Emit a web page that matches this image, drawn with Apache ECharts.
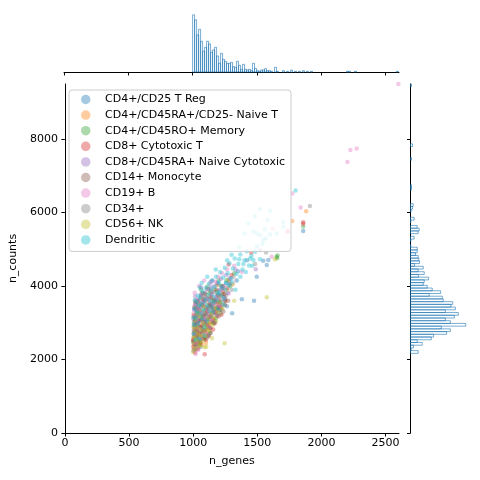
<!DOCTYPE html>
<html><head><meta charset="utf-8">
<script src="https://cdn.jsdelivr.net/npm/echarts@6/dist/echarts.min.js"></script>
<style>html,body{margin:0;padding:0;background:#fff}#c{width:480px;height:480px}</style>
</head><body><div id="c"></div>
<script>
// ---------- DATA ----------
const categories = ['CD4+/CD25 T Reg','CD4+/CD45RA+/CD25- Naive T','CD4+/CD45RO+ Memory','CD8+ Cytotoxic T','CD8+/CD45RA+ Naive Cytotoxic','CD14+ Monocyte','CD19+ B','CD34+','CD56+ NK','Dendritic'];
const xTicks = [0,500,1000,1500,2000,2500];
const yTicks = [0,2000,4000,6000,8000];

// [n_genes, n_counts]
const tRegPts = [[1005,2950],[1012,3120],[1020,2780],[1028,3300],[1035,2650],[1042,3050],[1050,2890],[1058,3420],[1066,3180],[1073,2720],[1081,3010],[1090,3560],[1097,3240],[1105,2950],[1112,3380],[1120,3650],[1128,3100],[1136,3470],[1145,3800],[1153,3260],[1162,3590],[1170,3050],[1180,3720],[1190,3410],[1203,3880],[1215,3560],[1228,3990],[1240,3700],[1255,4080],[1270,3820],[1285,4210],[1304,3257],[1380,3638],[1475,3600],[1496,4253],[1547,4689],[1574,4571],[1586,4707],[1858,5497],[1002,2480],[1018,2560],[1047,3620],[1085,2600],[1133,2850],[1350,4400],[1420,4700],
 [1009,3380],[1031,2420],[1062,3720],[1011,2700],[1094,2780],[1139,3950],[1176,3250],[1024,3500],[1208,3350],[1117,2650],[1057,2350],[1196,4050],[1263,3450],[1149,3500],[1037,3270]];
const naiveTPts = [[1003,2600],[1010,2870],[1017,3080],[1025,2450],[1033,2990],[1041,3210],[1049,2700],[1056,3350],[1064,2930],[1072,3130],[1080,2560],[1088,3460],[1096,2820],[1104,3280],[1113,3060],[1122,3540],[1131,2980],[1140,3690],[1150,3320],[1160,3110],[1172,3600],[1185,3850],[1198,3450],[1212,3720],[1230,3950],[1250,3640],[1275,4150],[1310,4050],[1773,5769],[1881,6033],[1740,5500],[1008,2380],[1045,2520],[1100,2450],
 [1015,3420],[1061,3680],[1004,3210],[1093,2640],[1137,3860],[1029,2740],[1177,3330],[1219,3480],[1068,2400],[1124,2780],[1264,3900],[1036,3560],[1186,4020],[1103,3750]];
const memoryPts = [[1006,3020],[1014,2730],[1022,3260],[1030,2890],[1039,3440],[1046,2600],[1055,3150],[1063,3520],[1071,2840],[1079,3330],[1087,3010],[1095,3700],[1103,3190],[1111,2870],[1119,3450],[1127,3820],[1137,3270],[1147,3600],[1157,3000],[1168,3900],[1179,3380],[1192,3750],[1206,3540],[1220,4010],[1236,3790],[1260,4160],[1290,4000],[1320,4350],[1651,4798],[1658,4830],[1858,5622],[1655,4760],[1070,3800],
 [1002,2510],[1051,2460],[1087,2560],[1018,3580],[1133,2730],[1176,3130],[1214,3260],[1109,3980],[1062,3900],[1247,3610],[1027,2280],[1198,4150],[1155,3320]];
const cytoTPts = [[1001,2350],[1004,2560],[1009,2780],[1015,2420],[1021,2980],[1027,2650],[1034,2830],[1040,2510],[1048,3070],[1054,2740],[1062,2900],[1069,2620],[1077,3200],[1085,2790],[1093,3050],[1090,2141],[1101,2700],[1110,3310],[1118,2950],[1126,3150],[1135,2860],[1144,3420],[1154,3070],[1165,3280],[1176,3540],[1188,3190],[1200,3650],[1214,3420],[1232,3860],[1252,3590],[1276,4590],[1300,4300],[1452,4906],[1858,5695],[1858,5740],[1000,2520],[1038,2300],
 [1006,3180],[1013,2190],[1031,3390],[1057,2460],[1072,3480],[1098,2530],[1123,2640],[1142,3690],[1169,2990],[1193,3420],[1221,3220],[1244,3780],[1017,3560],[1083,3620],[1156,2820]];
const naiveCytoPts = [[1002,3100],[1008,3350],[1013,2890],[1019,3500],[1026,3210],[1032,2960],[1038,3620],[1045,3380],[1052,3060],[1059,3740],[1067,3290],[1075,3560],[1083,3110],[1091,3820],[1099,3430],[1108,3660],[1116,3240],[1124,3910],[1133,3520],[1142,3760],[1152,3380],[1163,3990],[1175,3650],[1187,4080],[1200,3780],[1216,4200],[1235,3930],[1258,4300],[1282,4050],[1330,4450],[1488,4454],[1522,4980],[1003,2250],[1006,2430],[1150,4150],
 [1011,2640],[1029,2760],[1054,2560],[1071,2780],[1096,3070],[1121,2870],[1146,3170],[1172,3330],[1207,3480],[1249,3660],[1016,3720],[1063,3960],[1137,4120],[1224,3980],[1041,2400]];
const monocytePts = [[1003,2700],[1007,2510],[1012,2920],[1018,2620],[1024,3140],[1031,2800],[1037,3030],[1044,2690],[1051,3250],[1060,2880],[1068,3070],[1076,2760],[1084,3190],[1092,2940],[1100,3360],[1109,3100],[1117,2890],[1125,3490],[1134,3200],[1143,3030],[1155,3420],[1166,3620],[1178,3300],[1191,3560],[1205,3340],[1222,3760],[1245,3500],[1268,3950],[1010,2280],[1055,2420],
 [1021,3390],[1046,3520],[1079,3640],[1014,3080],[1105,2580],[1137,2730],[1162,2980],[1199,3170],[1236,3310],[1058,2520],[1092,3800],[1181,3900],[1274,3600],[1029,2400]];
const bCellPts = [[1004,3250],[1011,3470],[1016,2680],[1023,3630],[1029,3060],[1036,3390],[1043,2850],[1050,3560],[1057,3230],[1065,3800],[1074,3000],[1082,3440],[1089,3700],[1098,3140],[1107,3920],[1115,3350],[1123,3620],[1132,4050],[1141,3280],[1151,3850],[1161,3500],[1173,4120],[1184,3700],[1196,4250],[1210,3900],[1226,4350],[1244,4000],[1265,4450],[1290,4200],[1320,4550],[1612,4798],[1773,6522],[1838,6141],[1734,5488],[1737,5478],[1620,5560],[2203,7374],[2226,7701],[2275,7747],[2600,9500],[1020,2150],[1040,2260],
 [1007,2560],[1026,2440],[1061,2580],[1094,2720],[1119,2900],[1146,3070],[1178,3280],[1203,3480],[1237,3640],[1279,3800],[1012,3820],[1047,4000],[1086,4150],[1335,4150],[1380,4380]];
const cd34Pts = [[1005,2800],[1013,3010],[1021,2580],[1029,3180],[1037,2920],[1046,3330],[1054,2760],[1063,3090],[1072,3480],[1081,2950],[1090,3260],[1099,3610],[1109,3020],[1119,3390],[1130,3710],[1141,3150],[1153,3530],[1166,3840],[1180,3420],[1195,3760],[1212,3600],[1232,4000],[1256,3740],[1283,4100],[1483,4598],[1910,6177],[1568,4916],[1300,3900],
 [1009,3420],[1033,3590],[1068,2640],[1095,2810],[1124,2690],[1160,3010],[1191,3230],[1223,3370],[1017,2380],[1049,2520],[1076,3800],[1113,3920],[1248,3480],[1314,4250]];
const nkPts = [[999,2212],[1043,2395],[1089,2332],[1102,2348],[1147,2577],[1245,2441],[1574,3692],[1001,2450],[1006,2620],[1011,2300],[1017,2760],[1024,2540],[1031,2880],[1039,2680],[1047,2500],[1056,2820],[1065,2640],[1074,3000],[1083,2760],[1093,2920],[1104,2850],[1116,3100],[1128,2980],[1142,3250],[1157,3150],[1172,3400],[1190,3300],[1210,3550],[1638,4727],[1320,3600],
 [1003,2880],[1019,3080],[1035,3260],[1052,2360],[1069,2480],[1097,2640],[1121,2790],[1150,2930],[1180,3050],[1013,2580],[1059,3180],[1086,3420],[1228,3380]];
const dendriticPts = [[1002,3150],[1009,2940],[1014,3380],[1020,3120],[1026,3560],[1033,3280],[1040,2990],[1046,3470],[1053,3690],[1060,3230],[1067,3520],[1074,3850],[1082,3360],[1090,3640],[1098,3950],[1106,3480],[1114,3760],[1122,4060],[1130,3600],[1139,3880],[1148,4150],[1158,3700],[1168,3990],[1178,4250],[1189,3820],[1200,4100],[1211,4380],[1222,3950],[1234,4230],[1246,4500],[1258,4080],[1270,4350],[1283,4620],[1296,4200],[1310,4480],[1324,4750],[1338,4330],[1352,4600],[1359,4727],[1368,4860],[1385,4450],[1400,4700],[1418,4950],[1436,4560],[1455,4820],[1470,4707],[1483,4934],[1497,5080],[1522,4727],[1540,5150],[1565,5300],[1600,5400],[1359,5053],[1400,5433],[1470,5478],[1496,5433],[1522,5388],[1547,5252],[1560,5543],[1580,5800],[1600,6050],[1651,5433],[1703,5750],[1703,5614],[1430,5700],[1480,5900],[1520,6100],[1799,6604],[1090,2650],[1050,2550],[1155,3300],[1240,3650],[1330,3900],
 [1005,2700],[1018,2540],[1037,3740],[1052,3960],[1071,3120],[1087,2880],[1108,3060],[1126,3320],[1145,3420],[1163,3560],[1186,3620],[1203,3830],[1219,3720],[1251,3900],[1279,4020],[1304,4100],[1342,4150],[1369,4250],[1392,4600],[1411,4380],[1444,4750],[1461,4550],[1012,3620],[1066,4080],[1110,4250],[1176,4450],[1265,4700],[1300,4850],[1234,3500],[1195,3380]];

// marginal histogram of n_genes: bins from 1000 to 2600
const genesBinStart = 1000, genesBinEnd = 2600;
const genesCounts = [171,156,111,128,92,62,74,92,84,59,66,74,48,26,56,38,32,26,26,29,16,14,32,20,8,23,8,6,8,4,26,11,4,2,6,6,10,4,4,2,0,14,2,
 0,0,4,0,2,0,6,0,2,0,2,0,4,0,2,0,2,
 0,0,0,0,0,0,0,0,0,0,0,0,0,0,0,0,0,
 2,2,0,0,2,
 0,0,0,0,0,0,0,0,0,0,0,0,0,0,0,0,0,0,0,0,
 2];
// marginal histogram of n_counts: bins from 2168 to 9500
const countsBinStart = 2168, countsBinEnd = 9500;
const countsCounts = [23,2,9,35,20,62,69,108,119,92,165,119,104,131,143,104,134,121,126,98,95,56,90,65,50,38,41,54,24,41,23,38,12,27,25,23,15,20,20,1,0,1,11,0,23,26,20,0,1,11,0,0,2,6,8,
 0,0,0,0,0,3,3,0,0,0,0,0,0,0,0,0,3,0,0,0,0,6,0,0,0,0,0,0,0,0,0,0,0,0,0,0,0,0,0,0,0,0,0,3];

// ---------- CHART ----------
const palette = ['#1f77b4','#ff7f0e','#2ca02c','#d62728','#9467bd','#8c564b','#e377c2','#7f7f7f','#bcbd22','#17becf'];
function rgba(hex, a){const n=parseInt(hex.slice(1),16);return `rgba(${(n>>16)&255},${(n>>8)&255},${n&255},${a})`;}
const groups = [tRegPts,naiveTPts,memoryPts,cytoTPts,naiveCytoPts,monocytePts,bCellPts,cd34Pts,nkPts,dendriticPts];

function binsOf(start,end,counts){
  const w=(end-start)/counts.length, out=[];
  counts.forEach((c,i)=>{ if(c>0) out.push([start+i*w,start+(i+1)*w,c]); });
  return out;
}
const FONT='DejaVu Sans';
const histStyle={fill:'rgba(255,255,255,0)',stroke:'rgba(31,119,180,0.6)',lineWidth:1};

const scatterSeries = groups.map((pts,i)=>({
  name:categories[i], type:'scatter', xAxisIndex:0, yAxisIndex:0,
  data:pts, symbolSize:4.5,
  itemStyle:{color:rgba(palette[i],0.5)}
}));

const option = {
  animation:false,
  backgroundColor:'#fff',
  textStyle:{fontFamily:FONT},
  grid:[
    {left:64, top:84, width:335, height:349},
    {left:64, top:12, width:335, height:60},
    {left:410.5, top:84, width:58, height:349}
  ],
  xAxis:[
    {gridIndex:0, type:'value', min:0, max:2605, name:'n_genes', nameLocation:'middle', nameGap:23,
     nameTextStyle:{fontSize:11, color:'#000', fontFamily:FONT},
     axisLine:{lineStyle:{color:'#000',width:1}}, splitLine:{show:false},
     axisTick:{length:3.5, customValues:xTicks, lineStyle:{color:'#000'}},
     axisLabel:{customValues:xTicks, fontSize:11, color:'#000', margin:5, fontFamily:FONT, formatter:v=>String(v)}},
    {gridIndex:1, type:'value', min:0, max:2605, axisLine:{lineStyle:{color:'#000',width:1}}, splitLine:{show:false},
     axisTick:{length:3.5, customValues:xTicks, lineStyle:{color:'#000'}}, axisLabel:{show:false}},
    {gridIndex:2, type:'value', min:0, max:165*1.05, show:false, splitLine:{show:false}}
  ],
  yAxis:[
    {gridIndex:0, type:'value', min:0, max:9500, name:'n_counts', nameLocation:'middle', nameGap:34,
     nameTextStyle:{fontSize:11, color:'#000', fontFamily:FONT},
     axisLine:{show:true, lineStyle:{color:'#000',width:1}}, splitLine:{show:false},
     axisTick:{show:true, length:3.5, customValues:yTicks, lineStyle:{color:'#000'}},
     axisLabel:{customValues:yTicks, fontSize:11, color:'#000', margin:7, fontFamily:FONT, formatter:v=>String(v)}},
    {gridIndex:1, type:'value', min:0, max:171*1.05, show:false, splitLine:{show:false}},
    {gridIndex:2, type:'value', min:0, max:9500, axisLine:{show:true, lineStyle:{color:'#000',width:1}}, splitLine:{show:false},
     axisTick:{show:true, length:3.5, customValues:yTicks, lineStyle:{color:'#000'}}, axisLabel:{show:false}}
  ],
  legend:{
    data:categories, orient:'vertical', left:69, top:90,
    icon:'circle', itemWidth:9.5, itemHeight:9.5, itemGap:4.6,
    padding:[4,6,6,12],
    backgroundColor:'rgba(255,255,255,0.8)', borderColor:'#cccccc', borderWidth:1, borderRadius:3,
    textStyle:{fontSize:11, color:'#000', fontFamily:FONT, lineHeight:11, padding:[0,0,0,9.5]},
    selectedMode:false
  },
  series:[
    ...scatterSeries,
    {type:'custom', xAxisIndex:1, yAxisIndex:1, data:binsOf(genesBinStart,genesBinEnd,genesCounts),
     encode:{x:[0,1], y:2}, silent:true,
     renderItem:(p,api)=>{const a=api.coord([api.value(0),api.value(2)]);const b=api.coord([api.value(1),0]);
       return {type:'rect', shape:{x:a[0],y:a[1],width:b[0]-a[0],height:b[1]-a[1]}, style:histStyle};}},
    {type:'custom', xAxisIndex:2, yAxisIndex:2, data:binsOf(countsBinStart,countsBinEnd,countsCounts),
     encode:{x:2, y:[0,1]}, silent:true,
     renderItem:(p,api)=>{const a=api.coord([0,api.value(1)]);const b=api.coord([api.value(2),api.value(0)]);
       return {type:'rect', shape:{x:a[0],y:a[1],width:b[0]-a[0],height:b[1]-a[1]}, style:histStyle};}}
  ]
};
echarts.init(document.getElementById('c')).setOption(option);
</script></body></html>
